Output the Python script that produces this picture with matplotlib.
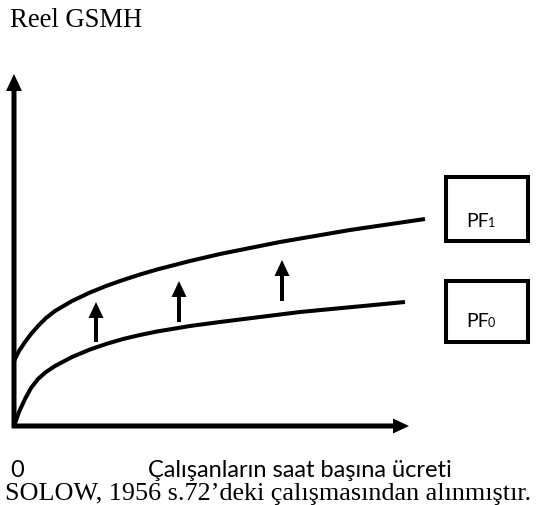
import matplotlib
matplotlib.use("Agg")
import matplotlib.pyplot as plt
from matplotlib.patches import Rectangle

pf1_x = [0, 5, 11, 17, 24, 32, 41, 58, 76, 92, 109, 126, 143, 176, 206, 266, 336, 411]
pf1_y = [65, 75, 84, 92, 100, 108, 115, 125, 133.5, 140, 146, 151.5, 156.5, 165, 172, 184, 196, 207]
pf0_x = [0, 5, 11, 17, 24, 32, 41, 58, 76, 92, 109, 126, 143, 176, 206, 286, 391]
pf0_y = [0, 14, 27, 38, 47, 54, 60, 69, 76.5, 82, 87, 91, 94.5, 100, 104, 114, 124]

# upward shift arrows: x position, start (on PF0 side) and tip (towards PF1)
shift_x = [82, 165, 268]
shift_start = [84, 104, 125]
shift_tip = [124, 145, 166]

# labels boxes: (left, bottom, width, height)
box_pf1 = (432, 185, 82, 64)
box_pf0 = (432, 84, 82, 61)

y_label = "Reel GSMH"
x_label = "Çalışanların saat başına ücreti"
origin_label = "0"
source_note = "SOLOW, 1956 s.72’deki çalışmasından alınmıştır."

SERIF = "Liberation Serif"
SANS = "Lato"

fig = plt.figure(figsize=(5.49, 5.06), dpi=100)
ax = fig.add_axes([0, 0, 1, 1])
ax.set_xlim(-14, 535)
ax.set_ylim(-79, 427)
ax.axis("off")

# axes with arrow heads
ax.arrow(0, -2, 0, 354, width=5, head_width=16, head_length=17,
         length_includes_head=True, color="black", lw=0)
ax.arrow(-2, 0, 397, 0, width=5, head_width=15, head_length=16,
         length_includes_head=True, color="black", lw=0)

for xs, ys in [(pf1_x, pf1_y), (pf0_x, pf0_y)]:
    ax.plot(xs, ys, color="black", lw=2.9, solid_capstyle="butt",
            solid_joinstyle="round")

for x, y0, y1 in zip(shift_x, shift_start, shift_tip):
    ax.arrow(x, y0, 0, y1 - y0, width=4, head_width=15, head_length=16,
             length_includes_head=True, color="black", lw=0)

for box, sub, base in [(box_pf1, "1", 200), (box_pf0, "0", 100)]:
    ax.add_patch(Rectangle(box[:2], box[2], box[3], fill=False,
                           edgecolor="black", lw=2.9))
    ax.text(box[0] + 20, base, "PF", family=SANS, fontsize=14, va="baseline")
    ax.text(box[0] + 42, base, sub, family=SANS, fontsize=9, va="baseline")

ax.text(-4, 400, y_label, family=SERIF, fontsize=19.2, va="baseline")
ax.text(-4, -50, origin_label, family=SANS, fontsize=17, va="baseline")
ax.text(134, -50, x_label, family=SANS, fontsize=17, va="baseline")
ax.text(-9, -73, source_note, family=SERIF, fontsize=18.8, va="baseline")

fig.savefig("out.png", dpi=100)
